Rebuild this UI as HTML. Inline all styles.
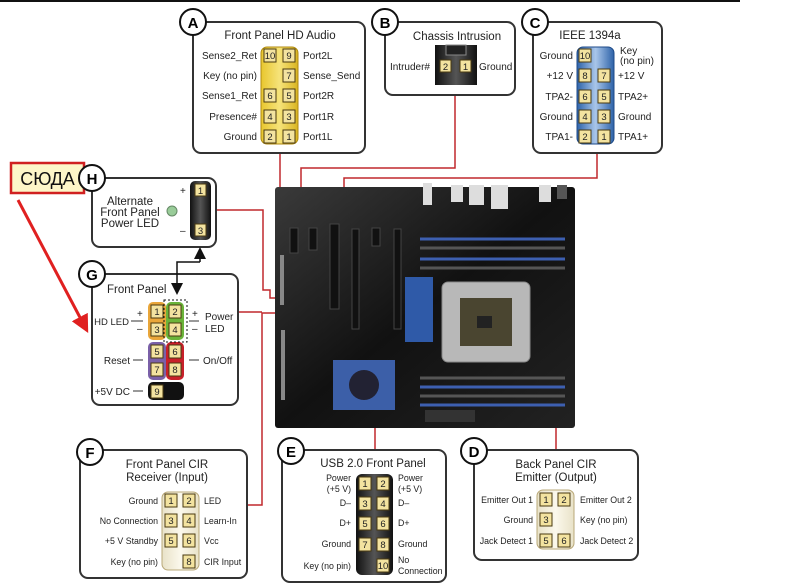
<!DOCTYPE html>
<html><head><meta charset="utf-8"><style>
html,body{margin:0;padding:0;background:#fff;width:791px;height:588px;overflow:hidden}
svg{display:block;font-family:"Liberation Sans","Noto Sans CJK SC",sans-serif}
.p{fill:#fff;stroke:#333;stroke-width:2}
.c{fill:#fff;stroke:#111;stroke-width:2}
.cl{font-size:15px;font-weight:bold;text-anchor:middle}
.h{font-size:11.5px;fill:#222}
.t{font-size:10px;fill:#222}
.s{font-size:8.8px;fill:#222}
.r{text-anchor:end}
.m{text-anchor:middle}
.pin{fill:#f3e3a0;stroke:#4a3a10;stroke-width:1}
.pn{font-size:9.5px;text-anchor:middle;fill:#222}
.red{fill:none;stroke:#c0282d;stroke-width:1.5}
</style></head><body>
<svg width="791" height="588" viewBox="0 0 791 588">
<defs>
<linearGradient id="mb" x1="0" y1="0" x2="1" y2="1"><stop offset="0" stop-color="#3a3a3a"/><stop offset=".5" stop-color="#111"/><stop offset="1" stop-color="#222"/></linearGradient>
<linearGradient id="yl" x1="0" y1="0" x2="1" y2="0"><stop offset="0" stop-color="#e8c62e"/><stop offset=".5" stop-color="#f6e37a"/><stop offset="1" stop-color="#d9b420"/></linearGradient>
<linearGradient id="bl" x1="0" y1="0" x2="1" y2="0"><stop offset="0" stop-color="#2d62a8"/><stop offset=".5" stop-color="#a9c6ea"/><stop offset="1" stop-color="#2d62a8"/></linearGradient>
<linearGradient id="bk" x1="0" y1="0" x2="1" y2="0"><stop offset="0" stop-color="#111"/><stop offset=".5" stop-color="#555"/><stop offset="1" stop-color="#111"/></linearGradient>
<linearGradient id="cr" x1="0" y1="0" x2="1" y2="0"><stop offset="0" stop-color="#e8e2c8"/><stop offset=".5" stop-color="#fbf8ec"/><stop offset="1" stop-color="#e8e2c8"/></linearGradient>
<marker id="ah" markerWidth="8" markerHeight="8" refX="4" refY="4" orient="auto"><path d="M0,0 L8,4 L0,8 z" fill="#111"/></marker>
<marker id="rh" markerWidth="6" markerHeight="6" refX="3" refY="3" orient="auto"><path d="M0,0 L6,3 L0,6 z" fill="#e02020"/></marker>
</defs>
<line x1="0" y1="1" x2="740" y2="1" stroke="#111" stroke-width="2"/>

<path class="red" d="M280,153 V200"/>
<path class="red" d="M455,95 V168 H301 V270"/>
<path class="red" d="M597,153 V178 H344 V283 H282"/>
<path class="red" d="M216,210 H263 V290 H270 V298 H300"/>
<path class="red" d="M238,312 H262"/>
<path class="red" d="M247,505 H262 V313 H282"/>
<path class="red" d="M375,450 V390 H285"/>
<path class="red" d="M556,450 V353 H285"/>

<rect x="275" y="187" width="300" height="241" rx="3" fill="url(#mb)"/>
<g fill="#ddd"><rect x="423" y="183" width="9" height="22"/><rect x="451" y="185" width="12" height="17"/><rect x="469" y="185" width="15" height="20"/><rect x="491" y="185" width="17" height="24"/><rect x="539" y="185" width="12" height="17"/></g>
<rect x="557" y="185" width="10" height="14" fill="#555"/>
<g fill="#111" stroke="#444"><rect x="290" y="228" width="8" height="25"/><rect x="309" y="228" width="8" height="22"/><rect x="330" y="224" width="9" height="85"/><rect x="352" y="229" width="7" height="100"/><rect x="372" y="228" width="8" height="18"/><rect x="394" y="229" width="7" height="100"/></g>
<g stroke-width="3"><line x1="420" y1="239" x2="565" y2="239" stroke="#3d5fb0"/><line x1="420" y1="248" x2="565" y2="248" stroke="#555"/><line x1="420" y1="259" x2="565" y2="259" stroke="#3d5fb0"/><line x1="420" y1="268" x2="565" y2="268" stroke="#555"/>
<line x1="420" y1="378" x2="565" y2="378" stroke="#555"/><line x1="420" y1="387" x2="565" y2="387" stroke="#3d5fb0"/><line x1="420" y1="396" x2="565" y2="396" stroke="#555"/><line x1="420" y1="405" x2="565" y2="405" stroke="#3d5fb0"/></g>
<rect x="405" y="277" width="28" height="65" fill="#2f5aa8"/>
<rect x="442" y="282" width="88" height="80" rx="6" fill="#b8b8b8" stroke="#888"/>
<rect x="460" y="298" width="52" height="48" fill="#4a4530"/>
<rect x="477" y="316" width="15" height="12" fill="#222"/>
<path d="M333,360 H395 V410 H333 Z" fill="#3c5fa8"/>
<circle cx="364" cy="385" r="15" fill="#223"/>
<rect x="425" y="410" width="50" height="12" fill="#333"/>
<g fill="#888"><rect x="280" y="255" width="4" height="50"/><rect x="281" y="330" width="4" height="70"/></g>

<rect x="11" y="163" width="73" height="30" fill="#fdf6c8" stroke="#d02020" stroke-width="2.5"/>
<text x="47.5" y="185" font-size="18" text-anchor="middle" fill="#111">СЮДА</text>
<line x1="18" y1="200" x2="84" y2="325" stroke="#e02020" stroke-width="3" marker-end="url(#rh)"/>

<!-- A -->
<rect class="p" x="193" y="22" width="172" height="131" rx="8"/>
<circle class="c" cx="193" cy="22" r="13"/><text class="cl" x="193" y="28">A</text>
<text class="h m" x="280" y="39">Front Panel HD Audio</text>
<rect x="261" y="47" width="37" height="97" rx="6" fill="url(#yl)" stroke="#b08a10"/>
<g class="t">
<text class="r" x="257" y="59">Sense2_Ret</text><text x="303" y="59">Port2L</text>
<text class="r" x="257" y="79">Key (no pin)</text><text x="303" y="79">Sense_Send</text>
<text class="r" x="257" y="99">Sense1_Ret</text><text x="303" y="99">Port2R</text>
<text class="r" x="257" y="120">Presence#</text><text x="303" y="120">Port1R</text>
<text class="r" x="257" y="140">Ground</text><text x="303" y="140">Port1L</text></g>
<rect class="pin" x="264" y="49" width="12" height="13"/><text class="pn" x="270" y="59">10</text>
<rect class="pin" x="283" y="49" width="12" height="13"/><text class="pn" x="289" y="59">9</text>
<rect class="pin" x="283" y="69" width="12" height="13"/><text class="pn" x="289" y="79">7</text>
<rect class="pin" x="264" y="89" width="12" height="13"/><text class="pn" x="270" y="99">6</text>
<rect class="pin" x="283" y="89" width="12" height="13"/><text class="pn" x="289" y="99">5</text>
<rect class="pin" x="264" y="110" width="12" height="13"/><text class="pn" x="270" y="120">4</text>
<rect class="pin" x="283" y="110" width="12" height="13"/><text class="pn" x="289" y="120">3</text>
<rect class="pin" x="264" y="130" width="12" height="13"/><text class="pn" x="270" y="140">2</text>
<rect class="pin" x="283" y="130" width="12" height="13"/><text class="pn" x="289" y="140">1</text>

<!-- B -->
<rect class="p" x="385" y="22" width="130" height="73" rx="8"/>
<circle class="c" cx="385" cy="22" r="13"/><text class="cl" x="385" y="28">B</text>
<text class="h m" x="457" y="40">Chassis Intrusion</text>
<rect x="435" y="45" width="42" height="40" fill="url(#bk)"/>
<rect x="446" y="45" width="20" height="10" fill="#222" stroke="#888"/>
<rect class="pin" x="440" y="60" width="11" height="12"/><text class="pn" x="445.5" y="70">2</text>
<rect class="pin" x="460" y="60" width="11" height="12"/><text class="pn" x="465.5" y="70">1</text>
<text class="t r" x="430" y="70">Intruder#</text><text class="t" x="479" y="70">Ground</text>

<!-- C -->
<rect class="p" x="533" y="22" width="129" height="131" rx="8"/>
<circle class="c" cx="535" cy="22" r="13"/><text class="cl" x="535" y="28">C</text>
<text class="h m" x="590" y="39">IEEE 1394a</text>
<rect x="577" y="47" width="37" height="97" rx="6" fill="url(#bl)" stroke="#1d4a88"/>
<g class="t">
<text class="r" x="573" y="59">Ground</text><text x="620" y="54">Key</text><text x="620" y="64">(no pin)</text>
<text class="r" x="573" y="79">+12 V</text><text x="618" y="79">+12 V</text>
<text class="r" x="573" y="100">TPA2-</text><text x="618" y="100">TPA2+</text>
<text class="r" x="573" y="120">Ground</text><text x="618" y="120">Ground</text>
<text class="r" x="573" y="140">TPA1-</text><text x="618" y="140">TPA1+</text></g>
<rect class="pin" x="579" y="49" width="12" height="13"/><text class="pn" x="585" y="59">10</text>
<rect class="pin" x="579" y="69" width="12" height="13"/><text class="pn" x="585" y="79">8</text>
<rect class="pin" x="598" y="69" width="12" height="13"/><text class="pn" x="604" y="79">7</text>
<rect class="pin" x="579" y="90" width="12" height="13"/><text class="pn" x="585" y="100">6</text>
<rect class="pin" x="598" y="90" width="12" height="13"/><text class="pn" x="604" y="100">5</text>
<rect class="pin" x="579" y="110" width="12" height="13"/><text class="pn" x="585" y="120">4</text>
<rect class="pin" x="598" y="110" width="12" height="13"/><text class="pn" x="604" y="120">3</text>
<rect class="pin" x="579" y="130" width="12" height="13"/><text class="pn" x="585" y="140">2</text>
<rect class="pin" x="598" y="130" width="12" height="13"/><text class="pn" x="604" y="140">1</text>

<!-- H -->
<rect class="p" x="92" y="178" width="124" height="69" rx="8"/>
<circle class="c" cx="92" cy="178" r="13"/><text class="cl" x="92" y="184">H</text>
<g class="h m"><text x="130" y="205">Alternate</text><text x="130" y="216">Front Panel</text><text x="130" y="227">Power LED</text></g>
<circle cx="172" cy="211" r="5" fill="#9c9" stroke="#686"/>
<rect x="190" y="181" width="21" height="59" rx="5" fill="url(#bk)"/>
<rect class="pin" x="195" y="184" width="11" height="12"/><text class="pn" x="200.5" y="194">1</text>
<rect class="pin" x="195" y="224" width="11" height="12"/><text class="pn" x="200.5" y="234">3</text>
<text class="t" x="180" y="194">+</text><text class="t" x="180" y="234">–</text>

<!-- G -->
<rect class="p" x="92" y="274" width="146" height="131" rx="8"/>
<circle class="c" cx="92" cy="274" r="13"/><text class="cl" x="92" y="280">G</text>
<text class="h" x="107" y="293">Front Panel</text>
<rect x="148" y="302" width="18" height="38" rx="5" fill="#e9a63a"/>
<rect x="166" y="302" width="18" height="38" rx="5" fill="#6bb43a"/>
<rect x="148" y="342" width="18" height="38" rx="5" fill="#7a60a8"/>
<rect x="166" y="342" width="18" height="38" rx="5" fill="#c8202a"/>
<rect x="148" y="382" width="36" height="18" rx="5" fill="#111"/>
<rect x="164" y="300" width="23" height="42" fill="none" stroke="#111" stroke-dasharray="2,2"/>
<rect class="pin" x="151" y="305" width="12" height="13"/><text class="pn" x="157" y="315">1</text>
<rect class="pin" x="169" y="305" width="12" height="13"/><text class="pn" x="175" y="315">2</text>
<rect class="pin" x="151" y="323" width="12" height="13"/><text class="pn" x="157" y="333">3</text>
<rect class="pin" x="169" y="323" width="12" height="13"/><text class="pn" x="175" y="333">4</text>
<rect class="pin" x="151" y="345" width="12" height="13"/><text class="pn" x="157" y="355">5</text>
<rect class="pin" x="169" y="345" width="12" height="13"/><text class="pn" x="175" y="355">6</text>
<rect class="pin" x="151" y="363" width="12" height="13"/><text class="pn" x="157" y="373">7</text>
<rect class="pin" x="169" y="363" width="12" height="13"/><text class="pn" x="175" y="373">8</text>
<rect class="pin" x="151" y="385" width="12" height="13"/><text class="pn" x="157" y="395">9</text>
<g class="t">
<text class="r" x="129" y="325" font-size="9.5">HD LED</text><text x="137" y="317">+</text><text x="137" y="332">–</text>
<line x1="131" y1="321" x2="143" y2="321" stroke="#333"/>
<text x="192" y="317">+</text><text x="192" y="332">–</text>
<line x1="189" y1="321" x2="199" y2="321" stroke="#333"/>
<text x="205" y="320">Power</text><text x="205" y="332">LED</text>
<text class="r" x="130" y="364">Reset</text><line x1="133" y1="360" x2="143" y2="360" stroke="#333"/>
<line x1="189" y1="360" x2="199" y2="360" stroke="#333"/><text x="203" y="364">On/Off</text>
<text class="r" x="130" y="395">+5V DC</text><line x1="133" y1="391" x2="143" y2="391" stroke="#333"/></g>

<path d="M200,262 V253" stroke="#111" stroke-width="1.5" fill="none" marker-end="url(#ah)"/>
<path d="M200,262 H177 V289" stroke="#111" stroke-width="1.5" fill="none" marker-end="url(#ah)"/>

<!-- F -->
<rect class="p" x="80" y="450" width="167" height="128" rx="8"/>
<circle class="c" cx="90" cy="452" r="13"/><text class="cl" x="90" y="458">F</text>
<g class="h m"><text x="167" y="468">Front Panel CIR</text><text x="167" y="481">Receiver (Input)</text></g>
<rect x="162" y="492" width="37" height="78" rx="6" fill="url(#cr)" stroke="#b9a878"/>
<g class="s"><text class="r" x="158" y="504">Ground</text><text x="204" y="504">LED</text>
<text class="r" x="158" y="524">No Connection</text><text x="204" y="524">Learn-In</text>
<text class="r" x="158" y="544">+5 V Standby</text><text x="204" y="544">Vcc</text>
<text class="r" x="158" y="565">Key (no pin)</text><text x="204" y="565">CIR Input</text></g>
<rect class="pin" x="165" y="494" width="12" height="13"/><text class="pn" x="171" y="504">1</text>
<rect class="pin" x="183" y="494" width="12" height="13"/><text class="pn" x="189" y="504">2</text>
<rect class="pin" x="165" y="514" width="12" height="13"/><text class="pn" x="171" y="524">3</text>
<rect class="pin" x="183" y="514" width="12" height="13"/><text class="pn" x="189" y="524">4</text>
<rect class="pin" x="165" y="534" width="12" height="13"/><text class="pn" x="171" y="544">5</text>
<rect class="pin" x="183" y="534" width="12" height="13"/><text class="pn" x="189" y="544">6</text>
<rect class="pin" x="183" y="555" width="12" height="13"/><text class="pn" x="189" y="565">8</text>

<!-- E -->
<rect class="p" x="282" y="450" width="164" height="132" rx="8"/>
<circle class="c" cx="291" cy="451" r="13"/><text class="cl" x="291" y="457">E</text>
<text class="h m" x="373" y="467">USB 2.0 Front Panel</text>
<rect x="356" y="474" width="37" height="101" rx="6" fill="url(#bk)"/>
<g class="s"><text class="r" x="351" y="481">Power</text><text class="r" x="351" y="492">(+5 V)</text>
<text x="398" y="481">Power</text><text x="398" y="492">(+5 V)</text>
<text class="r" x="351" y="506">D–</text><text x="398" y="506">D–</text>
<text class="r" x="351" y="526">D+</text><text x="398" y="526">D+</text>
<text class="r" x="351" y="547">Ground</text><text x="398" y="547">Ground</text>
<text class="r" x="351" y="569">Key (no pin)</text><text x="398" y="563">No</text><text x="398" y="574">Connection</text></g>
<rect class="pin" x="359" y="477" width="12" height="13"/><text class="pn" x="365" y="487">1</text>
<rect class="pin" x="377" y="477" width="12" height="13"/><text class="pn" x="383" y="487">2</text>
<rect class="pin" x="359" y="497" width="12" height="13"/><text class="pn" x="365" y="507">3</text>
<rect class="pin" x="377" y="497" width="12" height="13"/><text class="pn" x="383" y="507">4</text>
<rect class="pin" x="359" y="517" width="12" height="13"/><text class="pn" x="365" y="527">5</text>
<rect class="pin" x="377" y="517" width="12" height="13"/><text class="pn" x="383" y="527">6</text>
<rect class="pin" x="359" y="538" width="12" height="13"/><text class="pn" x="365" y="548">7</text>
<rect class="pin" x="377" y="538" width="12" height="13"/><text class="pn" x="383" y="548">8</text>
<rect class="pin" x="377" y="559" width="12" height="13"/><text class="pn" x="383" y="569">10</text>

<!-- D -->
<rect class="p" x="474" y="450" width="164" height="110" rx="8"/>
<circle class="c" cx="474" cy="451" r="13"/><text class="cl" x="474" y="457">D</text>
<g class="h m"><text x="556" y="468">Back Panel CIR</text><text x="556" y="481">Emitter (Output)</text></g>
<rect x="537" y="490" width="37" height="59" rx="6" fill="url(#cr)" stroke="#b9a878"/>
<g class="s"><text class="r" x="533" y="503">Emitter Out 1</text><text x="580" y="503">Emitter Out 2</text>
<text class="r" x="533" y="523">Ground</text><text x="580" y="523">Key (no pin)</text>
<text class="r" x="533" y="544">Jack Detect 1</text><text x="580" y="544">Jack Detect 2</text></g>
<rect class="pin" x="540" y="493" width="12" height="13"/><text class="pn" x="546" y="503">1</text>
<rect class="pin" x="558" y="493" width="12" height="13"/><text class="pn" x="564" y="503">2</text>
<rect class="pin" x="540" y="513" width="12" height="13"/><text class="pn" x="546" y="523">3</text>
<rect class="pin" x="540" y="534" width="12" height="13"/><text class="pn" x="546" y="544">5</text>
<rect class="pin" x="558" y="534" width="12" height="13"/><text class="pn" x="564" y="544">6</text>
</svg>
</body></html>
